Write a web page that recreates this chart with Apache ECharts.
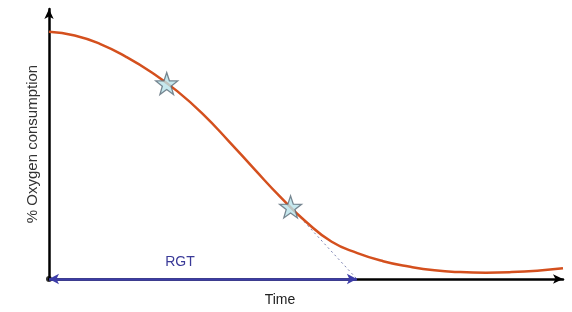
<!DOCTYPE html>
<html>
<head>
    <meta charset="utf-8">
    <title>RGT</title>
    <script src="https://cdn.jsdelivr.net/npm/echarts@6/dist/echarts.min.js"></script>
</head>
<body style="margin: 0;">
<div id="main" style="width: 572px;height:312px;"></div>

<script>
    // curve of oxygen consumption over time (arbitrary units, 0-100)
    var curveX = [0, 5, 10, 15, 20, 25, 30, 35, 40, 45, 50, 55, 60, 65, 70, 75, 80, 85, 90, 95, 100];
    var curveY = [91.6, 90.2, 87.0, 82.3, 76.5, 69.5, 61.0, 51.0, 40.6, 30.4, 21.2, 13.8, 9.6, 6.6, 4.6, 3.2, 2.55, 2.35, 2.55, 3.1, 4.0];

    // marked points on the curve
    var starX = [22.9, 47.0];
    var starY = [72.4, 26.7];

    // tangent from second star down to the time axis
    var tangentX = [47.0, 59.9];
    var tangentY = [26.7, 0];

    // RGT interval on the time axis
    var rgtStart = 0;
    var rgtEnd = 59.9;

    var zip = function (xs, ys) {
        var d = [];
        for (var i = 0; i < xs.length; i++) {
            d.push([xs[i], ys[i]]);
        }
        return d;
    };

    var myChart = echarts.init(document.getElementById('main'));

    var axisCommon = {
        type: 'value',
        min: 0,
        max: 100,
        axisLabel: {show: false},
        axisTick: {show: false},
        splitLine: {show: false},
        axisLine: {
            show: true,
            onZero: false,
            symbol: ['none', 'arrow'],
            symbolSize: [7, 10],
            lineStyle: {color: '#000', width: 2.5}
        }
    };

    var option = {
        animation: false,
        grid: {left: 49, right: 9, top: 9, bottom: 33},
        xAxis: echarts.util.merge({}, axisCommon),
        yAxis: echarts.util.merge({
            name: '% Oxygen consumption',
            nameLocation: 'middle',
            nameGap: 9,
            nameTextStyle: {color: '#333', fontSize: 15, fontFamily: 'Liberation Sans'}
        }, axisCommon),
        graphic: [
            {
                type: 'text',
                x: 280, y: 300,
                style: {text: 'Time', fill: '#222', font: '14px "Liberation Sans"', align: 'center', verticalAlign: 'middle'}
            },
            {
                type: 'text',
                x: 180, y: 262,
                style: {text: 'RGT', fill: '#3a3a98', font: '14px "Liberation Sans"', align: 'center', verticalAlign: 'middle'}
            }
        ],
        series: [
            {
                type: 'line',
                data: zip(tangentX, tangentY),
                symbol: 'none',
                lineStyle: {color: '#7a80b0', width: 1, type: [2, 3]},
                z: 1
            },
            {
                type: 'line',
                data: zip(curveX, curveY),
                smooth: 0.5,
                symbol: 'none',
                lineStyle: {color: '#d4501e', width: 2.5},
                z: 2,
                markLine: {
                    silent: true,
                    symbol: ['arrow', 'arrow'],
                    symbolSize: [8, 10],
                    label: {show: false},
                    lineStyle: {color: '#3c3ca8', width: 2.5, type: 'solid'},
                    data: [[{coord: [rgtStart, 0]}, {coord: [rgtEnd, 0]}]]
                }
            },
            {
                type: 'scatter',
                data: zip(starX, starY),
                symbol: 'path://M0,-10 L2.35,-3.24 L9.51,-3.09 L3.8,1.24 L5.88,8.09 L0,4 L-5.88,8.09 L-3.8,1.24 L-9.51,-3.09 L-2.35,-3.24 Z',
                symbolSize: 22,
                itemStyle: {color: '#b8e2ea', borderColor: '#5a6c78', borderWidth: 1.3},
                z: 3
            },
            {
                type: 'scatter',
                data: [[0, 0]],
                symbol: 'circle',
                symbolSize: 6,
                itemStyle: {color: '#000'},
                z: 4
            }
        ]
    };

    myChart.setOption(option);
</script>
</body>
</html>
